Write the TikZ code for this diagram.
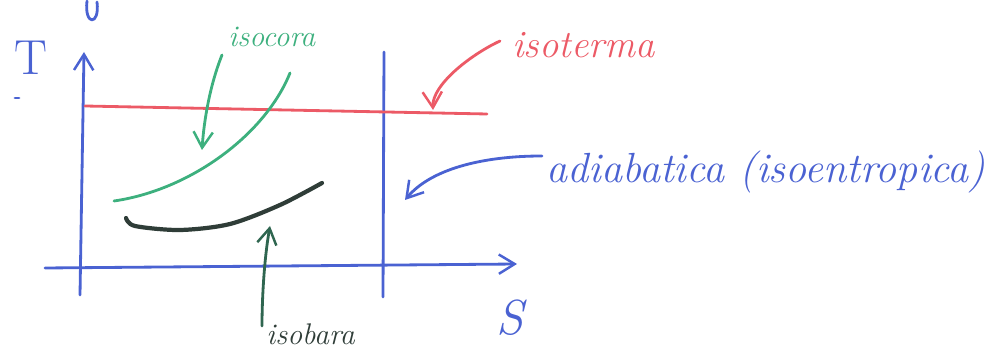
\documentclass[tikz,border=0pt]{standalone}
\usetikzlibrary{arrows.meta}
\definecolor{penblue}{HTML}{4A62D2}
\definecolor{penred}{HTML}{EC5A66}
\definecolor{pengreen}{HTML}{3DB07E}
\definecolor{pendark}{HTML}{2F3D38}
\definecolor{penteal}{HTML}{2F6650}
\tikzset{
  pen/.style={line width=1.6pt, line cap=round, line join=round},
  barb/.style={-{Straight Barb[length=9pt,width=11pt,line width=1.4pt]}},
  hand/.style={inner sep=0pt, font=\itshape}
}
\begin{document}
\begin{tikzpicture}[x=0.02cm,y=-0.02cm]
\useasboundingbox (0,0) rectangle (998,357);
% coordinates
\coordinate (ybot) at (80,295);
\coordinate (ytop) at (84,52);
\coordinate (xl) at (45,268);
\coordinate (xr) at (517,264);
\coordinate (rtop) at (384,52);
\coordinate (rbot) at (383,297);
\coordinate (il) at (85,106);
\coordinate (ir) at (487,114);
\coordinate (ctip) at (202,150);
\coordinate (ttip) at (433,110);
\coordinate (atip) at (405,200);
\coordinate (btip) at (270,226);
% partial mark at top
\draw[pen,penblue] (87,1) .. controls (84,26) and (100,26) .. (97,2);
% axes
\draw[pen,penblue,barb] (ybot) -- (ytop);
\draw[pen,penblue,barb] (xl) -- (xr);
\draw[pen,penblue] (rbot) -- (rtop);
\draw[pen,penblue] (15,98) -- (19,98);
\node[hand,penblue,font=\fontsize{28}{30}\selectfont] (T) at (31,58) {T};
\node[hand,penblue,font=\itshape\fontsize{28}{30}\selectfont] (S) at (510,318) {S};
% isotherm
\draw[pen,penred] (il) -- (ir);
\node[hand,penred,font=\itshape\fontsize{22}{24}\selectfont,anchor=west] (iso) at (512,45) {isoterma};
\draw[pen,penred,barb] (iso.west) ++(-12,-4) .. controls (470,55) and (432,85) .. (ttip);
% isochore
\draw[pen,pengreen] (114,201) .. controls (190,190) and (265,135) .. (290,73);
\node[hand,pengreen,font=\itshape\fontsize{17}{19}\selectfont,anchor=west] (icor) at (228,37) {isocora};
\draw[pen,pengreen,barb] (222,55) .. controls (210,85) and (204,120) .. (ctip);
% isobar
\draw[line width=2.4pt,line cap=round,pendark] plot[smooth] coordinates {(126,218) (135,226) (180,230) (230,224) (280,205) (322,183)};
\node[hand,pendark,font=\itshape\fontsize{17}{19}\selectfont,anchor=west] (ibar) at (266,334) {isobara};
\draw[pen,penteal,barb] (ibar.west) ++(-4,-8) .. controls (262,300) and (264,260) .. (btip);
% adiabatic
\node[hand,penblue,font=\itshape\fontsize{24}{26}\selectfont,anchor=west] (adi) at (546,172) {adiabatica (isoentropica)};
\draw[pen,penblue,barb] (adi.west) ++(-4,-16) .. controls (480,156) and (430,170) .. (atip);
\end{tikzpicture}
\end{document}
